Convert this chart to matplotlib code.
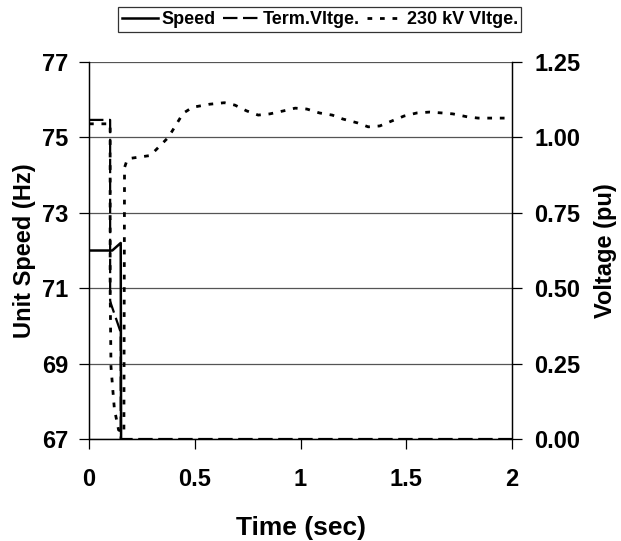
import numpy as np
import matplotlib.pyplot as plt

plt.rcParams['font.family'] = ['Liberation Sans', 'DejaVu Sans']
plt.rcParams['font.weight'] = 'bold'

# unit speed (Hz) - drops off the bottom of the scale after trip
speed_t = [0, 0.10, 0.11, 0.15, 0.152, 2.0]
speed_hz = [72.0, 72.0, 72.0, 72.2, 66.0, 66.0]

# terminal voltage (pu)
term_t = [0, 0.10, 0.10, 0.103, 0.147, 0.15, 0.15, 2.0]
term_v = [1.058, 1.058, 0.46, 0.45, 0.36, 0.36, 0.0, 0.0]

# 230 kV bus voltage (pu)
bus_t = [0, 0.10, 0.10, 0.104, 0.113, 0.12, 0.14, 0.165, 0.168, 0.18, 0.19, 0.29,
         0.375, 0.445, 0.49, 0.57, 0.64, 0.69, 0.745, 0.80, 0.855, 0.92, 0.975,
         1.03, 1.09, 1.15, 1.20, 1.27, 1.32, 1.375, 1.43, 1.49, 1.55, 1.61,
         1.67, 1.72, 1.79, 1.84, 1.90, 1.96, 2.0]
bus_v = [1.045, 1.045, 0.50, 0.24, 0.16, 0.10, 0.03, 0.02, 0.90, 0.925, 0.93, 0.94,
         1.00, 1.08, 1.10, 1.11, 1.115, 1.107, 1.088, 1.074, 1.078, 1.088, 1.097,
         1.094, 1.081, 1.074, 1.061, 1.048, 1.035, 1.038, 1.054, 1.071, 1.081, 1.084,
         1.081, 1.078, 1.068, 1.064, 1.064, 1.064, 1.064]

fig = plt.figure(figsize=(6.21, 5.41), dpi=100)
ax = fig.add_axes([0.1433, 0.1885, 0.6812, 0.6969])
ax2 = ax.twinx()

l1, = ax.plot(speed_t, speed_hz, color='black', lw=1.8, label='Speed')
l2, = ax2.plot(term_t, term_v, color='black', lw=1.6, linestyle=(0, (6.5, 2.5)),
               label='Term.Vltge.')
l3, = ax2.plot(bus_t, bus_v, color='black', lw=2.0, linestyle=(0, (1.7, 2.8)),
               label='230 kV Vltge.')

ax.set_xlim(0, 2)
ax.set_ylim(67, 77)
ax2.set_ylim(0, 1.25)
ax.set_xticks([0, 0.5, 1, 1.5, 2])
ax.set_xticklabels(['0', '0.5', '1', '1.5', '2'])
ax.set_yticks(np.arange(67, 78, 2))
ax2.set_yticks(np.arange(0, 1.26, 0.25))
ax2.set_yticklabels(['%.2f' % v for v in np.arange(0, 1.26, 0.25)])

ax.yaxis.grid(True, color='#555555', lw=0.9)
for a in (ax, ax2):
    a.spines['top'].set_visible(False)
    a.tick_params(direction='out', length=7, width=0.9, labelsize=17)
    for s in a.spines.values():
        s.set_linewidth(0.9)
ax.tick_params(axis='y', pad=8)
ax.tick_params(axis='x', pad=14)
ax2.tick_params(axis='y', pad=9)

ax.set_xlabel('Time (sec)', fontsize=19, fontweight='bold', labelpad=18)
ax.set_ylabel('Unit Speed (Hz)', fontsize=17, fontweight='bold', labelpad=4)
ax2.set_ylabel('Voltage (pu)', fontsize=17, fontweight='bold', labelpad=10)

leg = fig.legend([l1, l2, l3], ['Speed', 'Term.Vltge.', '230 kV Vltge.'],
                 loc='center', bbox_to_anchor=(0.515, 0.964), ncol=3,
                 fontsize=13, frameon=True, fancybox=False, handlelength=2.0,
                 handletextpad=0.2, columnspacing=0.4, borderpad=0.2)
leg.get_frame().set_edgecolor('black')
leg.get_frame().set_linewidth(0.9)

fig.savefig('out.png', dpi=100)
